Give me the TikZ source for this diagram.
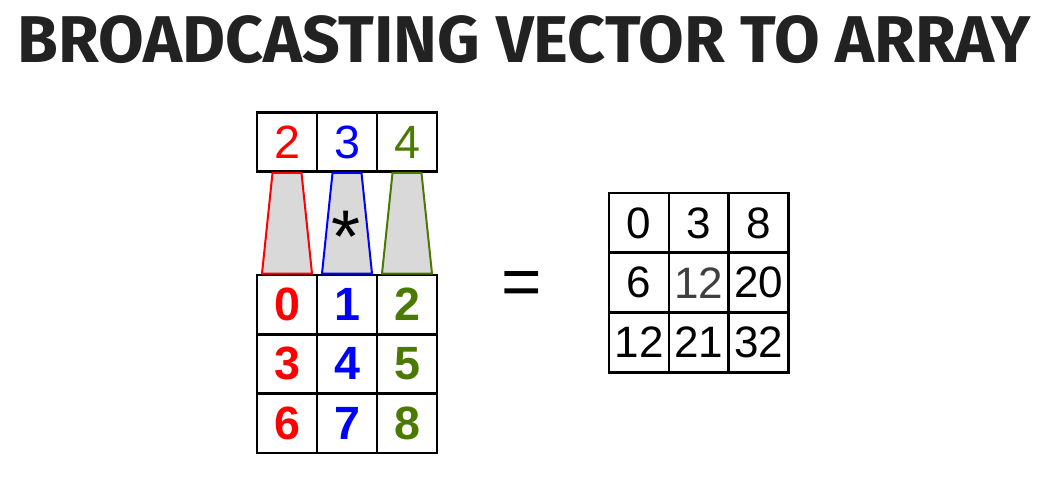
\documentclass[tikz,border=0pt]{standalone}
\usepackage{fontspec}
\setmainfont{Liberation Sans}
\newfontfamily\titlefont{Fira Sans}
\usetikzlibrary{positioning,calc}
\definecolor{vred}{HTML}{FF0000}
\definecolor{vblue}{HTML}{0000FF}
\definecolor{vgreen}{HTML}{4A7A00}
\definecolor{funnelgray}{HTML}{D9D9D9}
\definecolor{titlegray}{HTML}{222222}
\definecolor{midgray}{HTML}{404040}

\begin{document}
\begin{tikzpicture}[x=0.75pt,y=-0.75pt,node distance=0pt,
    cell/.style={draw,line width=2pt,minimum width=45pt,minimum height=44.5pt,
      outer sep=0pt,inner sep=0pt,font=\fontsize{35}{35}\selectfont},
    boldcell/.style={cell,font=\bfseries\fontsize{35}{35}\selectfont},
    sumcell/.style={cell,minimum width=44.8pt,minimum height=44.8pt,font=\fontsize{33}{33}\selectfont},
    funnel/.style={line width=1.5pt,fill=funnelgray}]
    \useasboundingbox (0,0) rectangle (1056,484);

    \node[font=\titlefont\bfseries\fontsize{49.6}{49.6}\selectfont,text=titlegray] (title) at (524,40) {BROADCASTING VECTOR TO ARRAY};

    % vector
    \node[cell,text=vred] (v1) at (287,142) {2};
    \node[cell,text=vblue,right=of v1] (v2) {3};
    \node[cell,text=vgreen,right=of v2] (v3) {4};

    % array
    \foreach \a/\b/\c [count=\r] in {0/1/2,3/4/5,6/7/8} {
        \node[boldcell,text=vred] (a\r1) at (287,{245.3+\r*59.3}) {\a};
        \node[boldcell,text=vblue,right=of a\r1] (a\r2) {\b};
        \node[boldcell,text=vgreen,right=of a\r2] (a\r3) {\c};
    }

    % funnels from vector to array
    \foreach \i/\col in {1/vred,2/vblue,3/vgreen}
        \draw[funnel,draw=\col] ($(v\i.south)+(-14.5,1.3)$) -- ($(v\i.south)+(14.5,1.3)$)
            -- ($(a1\i.north)+(25,-1.3)$) -- ($(a1\i.north)+(-25,-1.3)$) -- cycle;

    \node[inner sep=0pt,font=\fontsize{56}{56}\selectfont] (times) at (346,219)
        {\raisebox{-0.43em}[0.3em][0pt]{*}};
    \node[font=\fontsize{52}{52}\selectfont] (equals) at (522,289) {=};

    % result
    \foreach \a/\b/\c/\bcol [count=\r] in {0/3/8/black,6/12/20/midgray,12/21/32/black} {
        \node[sumcell] (s\r1) at (639,{163.3+\r*59.7}) {\a};
        \node[sumcell,text=\bcol,right=of s\r1] (s\r2) {\b};
        \node[sumcell,right=of s\r2] (s\r3) {\c};
    }
\end{tikzpicture}
\end{document}
